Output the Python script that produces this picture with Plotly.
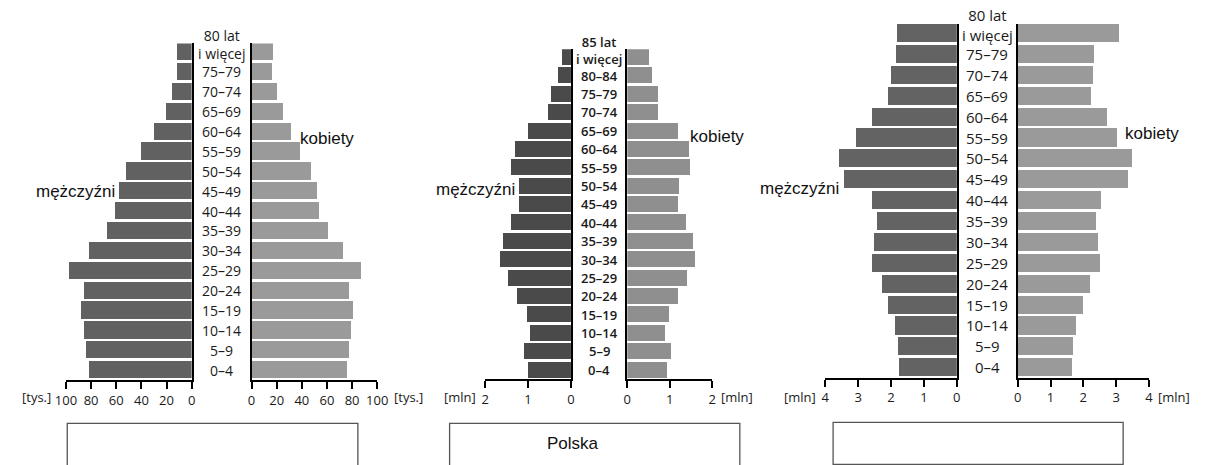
import plotly.graph_objects as go

W, H = 1212, 465

# ---------------- data ----------------
ages_a = ["0–4", "5–9", "10–14", "15–19", "20–24", "25–29", "30–34", "35–39",
          "40–44", "45–49", "50–54", "55–59", "60–64", "65–69", "70–74", "75–79",
          "80 lat<br>i więcej"]
ages_pl = ["0–4", "5–9", "10–14", "15–19", "20–24", "25–29", "30–34", "35–39",
           "40–44", "45–49", "50–54", "55–59", "60–64", "65–69", "70–74", "75–79",
           "80–84", "85 lat<br>i więcej"]

# pyramid 1 (thousands)
p1_men = [82, 84, 86, 88, 86, 97.4, 82, 67.5, 61, 58, 52, 40, 30, 20.5, 16, 11.7, 11.5]
p1_women = [75.3, 77.3, 79, 80.7, 77.3, 86.5, 72.4, 60.7, 53.4, 52, 47, 38, 31, 25, 20, 16, 17]
p1_ticks = [0, 20, 40, 60, 80, 100]

# pyramid 2 - Polska (millions)
p2_men = [0.99, 1.09, 0.94, 1.03, 1.26, 1.46, 1.66, 1.59, 1.40, 1.20, 1.20, 1.39,
          1.29, 0.99, 0.52, 0.45, 0.30, 0.20]
p2_women = [0.93, 1.03, 0.89, 0.98, 1.21, 1.41, 1.61, 1.55, 1.38, 1.19, 1.23, 1.48,
            1.46, 1.21, 0.72, 0.72, 0.59, 0.51]
p2_ticks = [0, 1, 2]

# pyramid 3 (millions)
p3_men = [1.76, 1.79, 1.87, 2.07, 2.26, 2.58, 2.50, 2.42, 2.58, 3.42, 3.56, 3.05,
          2.58, 2.09, 1.99, 1.83, 1.82]
p3_women = [1.65, 1.69, 1.77, 1.98, 2.19, 2.51, 2.45, 2.37, 2.53, 3.34, 3.48, 3.01,
            2.70, 2.23, 2.29, 2.33, 3.07]
p3_ticks = [0, 1, 2, 3, 4]

men_label = "mężczyźni"
women_label = "kobiety"
box_labels = ["", "Polska", ""]


def px(x):
    return x / W


def py(y):
    return 1 - y / H


BAR_W = 0.87
TICK_FONT = dict(family="Open Sans, Noto Sans, sans-serif", size=13, color="#1a1a1a")
LABEL_FONT = dict(family="Liberation Sans, Arial, sans-serif", size=17, color="#111")

pyramids = [
    dict(ages=ages_a, men=p1_men, women=p1_women, ticks=p1_ticks, maxv=100,
         left=(56, 184), right=(245, 373), top=43.4, bottom=380,
         cmen="#616161", cwomen="#9a9a9a", unit="[tys.]",
         uleft=43, uright=388, age_font=14, age_weight=400, top_shift=8,
         men_xy=(108, 192), women_xy=(292, 138)),
    dict(ages=ages_pl, men=p2_men, women=p2_women, ticks=p2_ticks, maxv=2,
         left=(483, 570.3), right=(627.7, 714.3), top=49.3, bottom=379,
         cmen="#4a4a4a", cwomen="#8f8f8f", unit="[mln]",
         uleft=476, uright=721, age_font=13, age_weight=600, top_shift=7,
         men_xy=(515, 189), women_xy=(690, 136)),
    dict(ages=ages_a, men=p3_men, women=p3_women, ticks=p3_ticks, maxv=4,
         left=(829.3, 963.3), right=(1025.3, 1159), top=24, bottom=377.7,
         cmen="#636363", cwomen="#9a9a9a", unit="[mln]",
         uleft=822, uright=1166, age_font=15, age_weight=400, top_shift=8,
         men_xy=(845, 188), women_xy=(1133, 134)),
]

fig = go.Figure()
layout = dict(
    width=W, height=H, margin=dict(l=0, r=0, t=0, b=0),
    paper_bgcolor="white", plot_bgcolor="white", showlegend=False,
    bargap=0, annotations=[], shapes=[],
)

ax = 0
for p in pyramids:
    n = len(p["ages"])
    yr = [-0.5, n - 1 + BAR_W / 2]
    ydom = [py(p["bottom"]), py(p["top"])]
    idx = list(range(n))
    for side in ("L", "R"):
        ax += 1
        xa = "x" if ax == 1 else f"x{ax}"
        ya = "y" if ax == 1 else f"y{ax}"
        xkey = "xaxis" if ax == 1 else f"xaxis{ax}"
        ykey = "yaxis" if ax == 1 else f"yaxis{ax}"
        if side == "L":
            vals, col, dom, rng = p["men"], p["cmen"], p["left"], [p["maxv"], 0]
        else:
            vals, col, dom, rng = p["women"], p["cwomen"], p["right"], [0, p["maxv"]]
        fig.add_trace(go.Bar(
            x=vals, y=idx, orientation="h", width=BAR_W,
            marker=dict(color=col, line=dict(width=0)),
            xaxis=xa, yaxis=ya, hoverinfo="x",
        ))
        layout[xkey] = dict(
            domain=[px(dom[0]), px(dom[1])], range=rng, anchor=ya,
            tickvals=p["ticks"], ticktext=[str(t) for t in p["ticks"]],
            ticks="outside", ticklen=7, tickwidth=2, tickcolor="black",
            showline=True, linewidth=2, linecolor="black",
            showgrid=False, zeroline=False, tickfont=TICK_FONT, fixedrange=True,
        )
        layout[ykey] = dict(
            domain=ydom, range=yr, anchor=xa,
            side="right" if side == "L" else "left",
            showline=True, linewidth=2, linecolor="black",
            showticklabels=False, ticks="", showgrid=False, zeroline=False,
            fixedrange=True,
        )
        if side == "L":
            yref_left = ya
    # age labels, centred between the two vertical lines
    cx = px((p["left"][1] + p["right"][0]) / 2)
    for i, lab in enumerate(p["ages"]):
        layout["annotations"].append(dict(
            x=cx, xref="paper", y=i, yref=yref_left, text=lab, showarrow=False,
            xanchor="center", yanchor="middle",
            yshift=p["top_shift"] if i == n - 1 else 0,
            font=dict(family="Open Sans, Noto Sans, sans-serif", size=p["age_font"],
                      color="#1a1a1a", weight=p["age_weight"]),
        ))
    # unit labels
    layout["annotations"].append(dict(
        x=px(p["uleft"]), y=py(397), xref="paper", yref="paper", text=p["unit"],
        showarrow=False, xanchor="right", yanchor="middle", font=TICK_FONT))
    layout["annotations"].append(dict(
        x=px(p["uright"]), y=py(397), xref="paper", yref="paper", text=p["unit"],
        showarrow=False, xanchor="left", yanchor="middle", font=TICK_FONT))
    # sex labels
    layout["annotations"].append(dict(
        x=px(p["men_xy"][0]), y=py(p["men_xy"][1]), xref="paper", yref="paper",
        text=men_label, showarrow=False, xanchor="right", yanchor="middle",
        font=LABEL_FONT))
    layout["annotations"].append(dict(
        x=px(p["women_xy"][0]), y=py(p["women_xy"][1]), xref="paper", yref="paper",
        text=women_label, showarrow=False, xanchor="left", yanchor="middle",
        font=LABEL_FONT))

# answer boxes under the pyramids
boxes = [(57.3, 353.3, 423.3, 475), (446.7, 742.3, 423.3, 475), (837.3, 1132.7, 422.3, 464.3)]
for (x0, x1, y0, y1), lab in zip(boxes, box_labels):
    layout["shapes"].append(dict(
        type="rect", xref="paper", yref="paper",
        x0=px(x0), x1=px(x1), y0=py(y1), y1=py(y0),
        line=dict(color="#555555", width=1.3), fillcolor="rgba(0,0,0,0)", layer="above"))
    if lab:
        layout["annotations"].append(dict(
            x=px(572.5), y=py(443.3), xref="paper", yref="paper", text=lab,
            showarrow=False, xanchor="center", yanchor="middle",
            font=dict(family="Liberation Sans, Arial, sans-serif", size=17, color="#111")))

fig.update_layout(**layout)
fig.write_html(
    "out.html",
    config={"displayModeBar": False},
    post_script="document.body.style.margin='0';document.body.style.overflow='hidden';",
)
